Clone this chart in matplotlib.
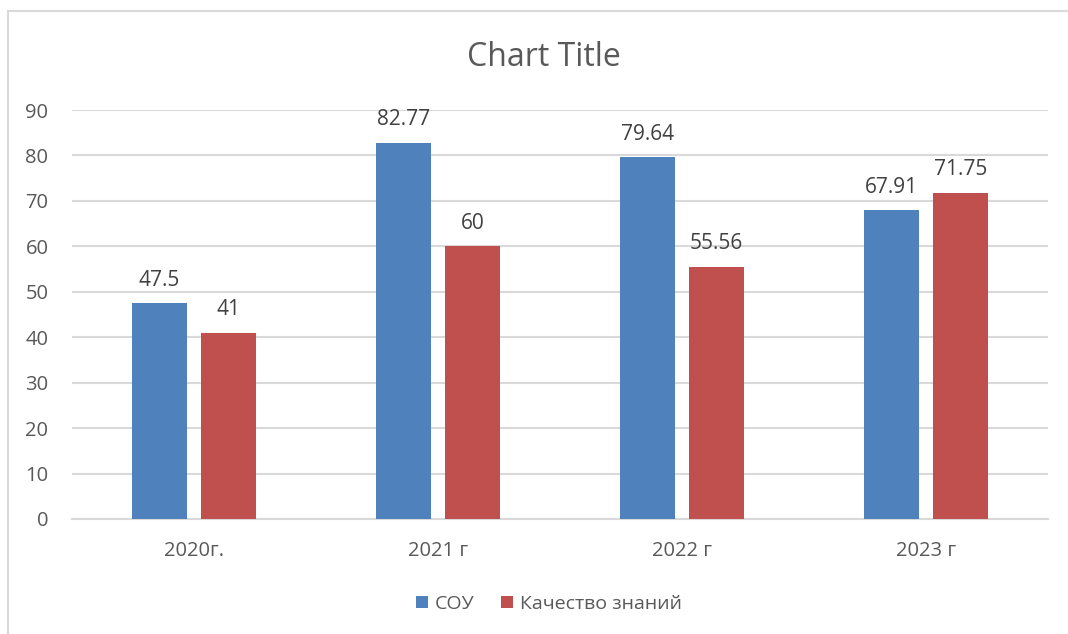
import matplotlib.pyplot as plt
import matplotlib.patches as mpatches
import numpy as np

plt.rcParams['font.family'] = ['Open Sans', 'DejaVu Sans']

# данные
categories = ["2020г.", "2021 г", "2022 г", "2023 г"]
sou = [47.5, 82.77, 79.64, 67.91]
quality = [41, 60, 55.56, 71.75]
sou_labels = ["47.5", "82.77", "79.64", "67.91"]
quality_labels = ["41", "60", "55.56", "71.75"]

fig = plt.figure(figsize=(10.68, 6.34), dpi=100)
ax = fig.add_axes([72/1068, 1-519/634, 976/1068, 409/634])

# рамка вокруг диаграммы
fig.patches.append(mpatches.Rectangle((8/1068, -0.05), 1.1, 1-11/634+0.05,
                                      transform=fig.transFigure, fill=False,
                                      edgecolor="#D9D9D9", linewidth=1.5))

x = np.arange(len(categories))
w = 0.225
off = 0.141
b1 = ax.bar(x - off, sou, w, color="#4F81BD", label="СОУ", zorder=3)
b2 = ax.bar(x + off, quality, w, color="#C0504D", label="Качество знаний", zorder=3)

ax.bar_label(b1, labels=sou_labels, padding=9, fontsize=15, color="#404040")
ax.bar_label(b2, labels=quality_labels, padding=9, fontsize=15, color="#404040")

ax.set_xlim(-0.5, 3.5)
ax.set_ylim(0, 90)
ax.set_yticks(range(0, 91, 10))
ax.set_xticks(x)
ax.set_xticklabels(categories)
ax.tick_params(axis="both", length=0, labelsize=14.5, labelcolor="#595959")
ax.tick_params(axis="x", pad=16)
ax.tick_params(axis="y", pad=17)

ax.grid(axis="y", color="#D9D9D9", linewidth=1.5, zorder=0)
for s in ["top", "right", "left"]:
    ax.spines[s].set_visible(False)
ax.spines["bottom"].set_color("#D9D9D9")
ax.spines["bottom"].set_linewidth(1.5)

fig.text(544/1068, 1-57/634, "Chart Title", ha="center", va="center",
         fontsize=23, color="#595959")

fig.legend(handles=[b1, b2], loc="center", bbox_to_anchor=(549/1068, 1-604/634),
           ncol=2, frameon=False, fontsize=14, labelcolor="#595959",
           handlelength=0.6, handleheight=0.6, handletextpad=0.35, columnspacing=1.4)

plt.savefig("out.png", dpi=100)
